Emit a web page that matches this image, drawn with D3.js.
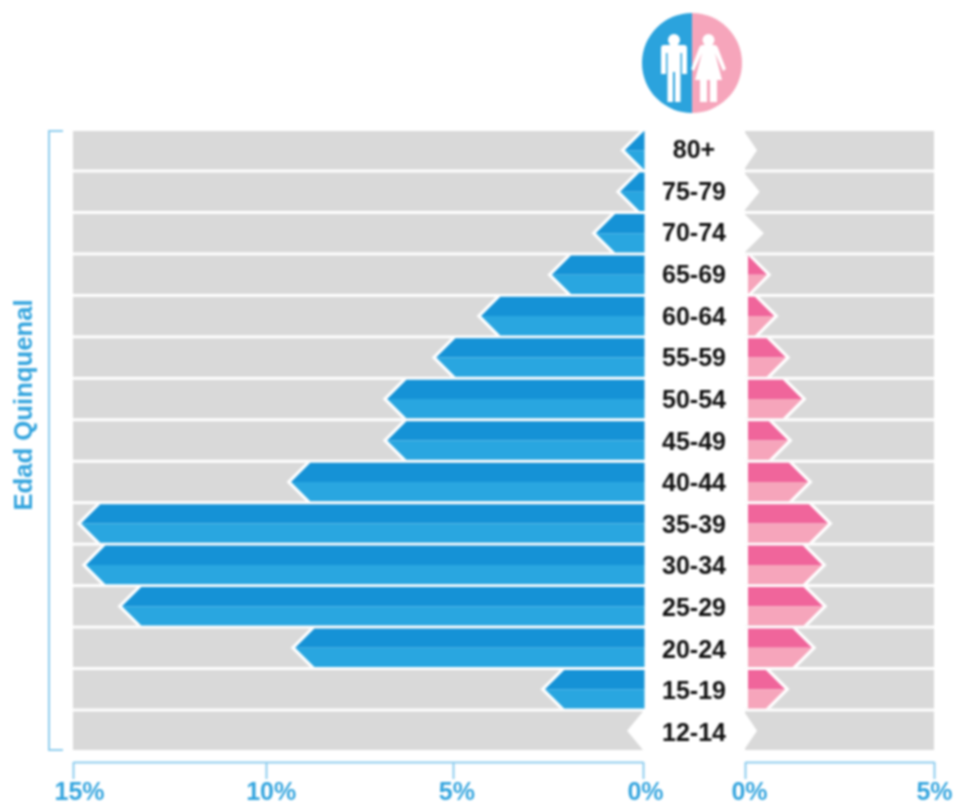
<!doctype html>
<html lang="es">
<head>
<meta charset="UTF-8">
<title>Edad Quinquenal</title>
<script src="https://cdn.jsdelivr.net/npm/d3@7"></script>
<style>
  html, body { margin: 0; background: #fff; }
  svg { display: block; filter: blur(0.8px); font-family: "Liberation Sans", Arial, sans-serif; font-weight: bold; }
</style>
</head>
<body>
<div class="canvas"></div>
<script>
  const ages = ['80+', '75-79', '70-74', '65-69', '60-64', '55-59', '50-54', '45-49', '40-44', '35-39', '30-34', '25-29', '20-24', '15-19', '12-14'];
  const men = [0.48, 0.6, 1.24, 2.4, 4.26, 5.45, 6.76, 6.76, 9.33, 14.79, 14.66, 13.73, 9.22, 2.58, 0.3];
  const women = [0.2, 0.27, 0.38, 0.58, 0.77, 1.08, 1.51, 1.14, 1.67, 2.2, 2.04, 2.06, 1.77, 1.06, 0.2];
  const menTicks = [15, 10, 5, 0];
  const womenTicks = [0, 5];

  const width = 955;
  const height = 804;
  const blue = '#1592d6', blueLight = '#29a6e0';
  const pink = '#f0659b', pinkLight = '#f6a5bb';
  const axisBlue = '#8fcdee', textBlue = '#35a5de';

  const svg = d3.select('.canvas').append('svg')
    .attr('width', width)
    .attr('height', height);

  const y = d3.scaleBand().domain(ages).range([131, 750]).paddingInner(0.07);
  const yLabel = d3.scalePoint().domain(ages).range([150, 733]);
  // the printed axis is not quite even, hence one stop per tick
  const xMen = d3.scaleLinear().domain(menTicks).range([73, 266, 453, 643]);
  const xWomen = d3.scaleLinear().domain([0, 5]).range([745, 934]);
  const h = y.bandwidth();
  const depth = h / 2;
  const rows = ages.map((age, i) => ({ age, men: men[i], women: women[i] }));

  // grey tracks
  svg.append('g').selectAll('rect').data(rows).enter().append('rect')
    .attr('x', xMen(15)).attr('width', xMen(0) - xMen(15))
    .attr('y', d => y(d.age)).attr('height', h).attr('fill', '#d9d9d9');
  svg.append('g').selectAll('rect').data(rows).enter().append('rect')
    .attr('x', xWomen(0)).attr('width', xWomen(5) - xWomen(0))
    .attr('y', d => y(d.age)).attr('height', h).attr('fill', '#d9d9d9');

  // half or whole arrow from base to tip; dir -1 points left, 1 points right
  function arrow(age, base, tip, dir, part) {
    const t = y(age), b = y(age) + h, m = y(age) + h / 2;
    const sh = tip - dir * Math.min(depth, Math.abs(tip - base));
    let pts;
    if (part === 'top') pts = [[base, t], [sh, t], [tip, m], [base, m]];
    else if (part === 'bottom') pts = [[base, m], [tip, m], [sh, b], [base, b]];
    else pts = [[base, t], [sh, t], [tip, m], [sh, b], [base, b]];
    return d3.line()(pts) + 'Z';
  }

  function side(x, key, base, whiteBase, dir, dark, light) {
    const g = svg.append('g');
    // white halo cut into the grey track
    g.selectAll('path.halo').data(rows).enter().append('path')
      .attr('class', 'halo')
      .attr('fill', '#fff')
      .attr('d', d => arrow(d.age, whiteBase, x(d[key]) + dir * 4.5, dir, 'all'));
    // very small values only show the notch
    const shown = rows.filter(d => d[key] >= 0.4);
    g.selectAll('path.dark').data(shown).enter().append('path')
      .attr('class', 'dark')
      .attr('fill', dark)
      .attr('d', d => arrow(d.age, base, x(d[key]), dir, 'top'));
    g.selectAll('path.light').data(shown).enter().append('path')
      .attr('class', 'light')
      .attr('fill', light)
      .attr('d', d => arrow(d.age, base, x(d[key]), dir, 'bottom'));
  }
  side(xMen, 'men', 644.5, 643, -1, blue, blueLight);
  side(xWomen, 'women', 748, 744, 1, pink, pinkLight);

  // age labels
  svg.append('g').selectAll('text').data(rows).enter().append('text')
    .attr('x', 694)
    .attr('y', d => yLabel(d.age) + 8)
    .attr('text-anchor', 'middle')
    .attr('font-size', 25)
    .attr('fill', '#111')
    .text(d => d.age);

  // axes
  function axis(scale, ticks, dx) {
    const g = svg.append('g')
      .attr('transform', 'translate(0, 762)')
      .call(d3.axisBottom(scale).tickValues(ticks).tickSize(17).tickSizeOuter(0).tickFormat(d => d + '%'));
    g.select('.domain').attr('stroke', axisBlue).attr('stroke-width', 2);
    g.selectAll('.tick line').attr('stroke', axisBlue).attr('stroke-width', 2);
    g.selectAll('.tick text')
      .attr('fill', textBlue)
      .attr('font-size', 25)
      .attr('font-family', '"Liberation Sans", Arial, sans-serif')
      .attr('font-weight', 'bold')
      .attr('dx', dx)
      .attr('y', 38)
      .attr('dy', 0);
  }
  axis(xMen, menTicks, d => 2 + d * 0.27);
  axis(xWomen, womenTicks, d => 4 - d * 0.8);

  // bracket and title
  svg.append('path')
    .attr('d', `M63,${y.range()[0]}H49V${y.range()[1]}H63`)
    .attr('fill', 'none')
    .attr('stroke', axisBlue)
    .attr('stroke-width', 2);
  svg.append('text')
    .attr('transform', 'translate(32, 405) rotate(-90)')
    .attr('text-anchor', 'middle')
    .attr('font-size', 25.7)
    .attr('fill', textBlue)
    .text('Edad Quinquenal');

  // icon
  const icon = svg.append('g').attr('transform', 'translate(692, 63)');
  icon.append('path').attr('d', 'M0,-50A50,50 0 0 0 0,50Z').attr('fill', '#2ba3dd');
  icon.append('path').attr('d', 'M0,-50A50,50 0 0 1 0,50Z').attr('fill', '#f6a5bb');
  icon.append('circle').attr('cx', -18).attr('cy', -23).attr('r', 6).attr('fill', '#fff');
  icon.append('circle').attr('cx', 16.5).attr('cy', -23).attr('r', 6).attr('fill', '#fff');
  // man
  icon.append('path').attr('fill', '#fff')
    .attr('d', 'M-31,-15 Q-31,-18 -28,-18 H-8 Q-5,-18 -5,-15 V11 H-10 V-10 H-11.5 V39 H-17 V9 H-19 V39 H-24.5 V-10 H-26 V11 H-31 Z');
  // woman
  icon.append('path').attr('fill', '#fff')
    .attr('d', 'M11,-18 H22 Q25,-18 26,-15 L34,6 L31,8 L23,-10 L30,17 H25 V39 H18 V17 H15 V39 H8 V17 H3 L10,-10 L2,8 L-1,6 L7,-15 Q8,-18 11,-18 Z');
</script>
</body>
</html>
